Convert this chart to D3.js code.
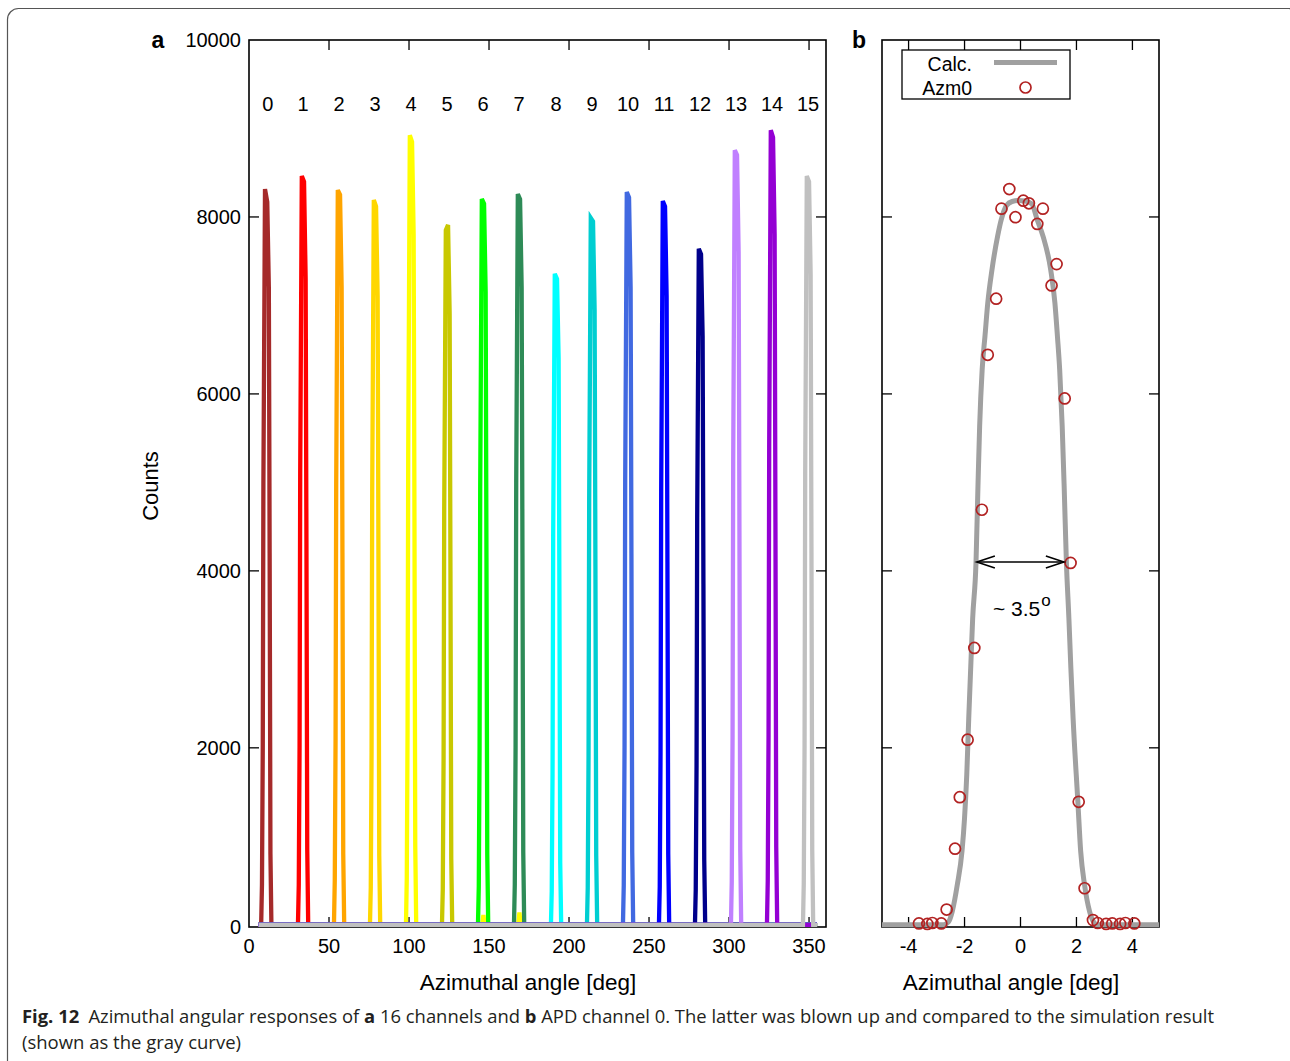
<!DOCTYPE html>
<html>
<head>
<meta charset="utf-8">
<script src="https://cdn.jsdelivr.net/npm/d3@7"></script>
<style>
  body { margin: 0; background: #fff; }
  svg { display: block; }
</style>
</head>
<body>
<svg id="fig" width="1290" height="1061"></svg>
<script>
// ---------- Panel a: 16 channels ----------
const channelIds = d3.range(16).map(String);
const channelColors = ["#a52a2a", "#ff0000", "#ffa500", "#ffd700", "#ffff00", "#c8c800",
  "#00ff00", "#2e8b57", "#00ffff", "#00ced1", "#4169e1", "#0000ff",
  "#00008b", "#c080ff", "#9400d3", "#c0c0c0"];
// centre angle of each channel's response [deg]
const channelCenters = [10.8, 33.8, 56.3, 78.8, 101.3, 123.8, 146.3, 168.8,
  191.9, 214.4, 236.9, 259.4, 281.9, 304.4, 326.9, 349.4];
// scan range covered by every channel [deg]
const scanRange = [6, 355];
// angle offsets from the channel centre at which the counts below are listed
const peakOffsets = [-3.2, -2.7, -2.2, -1.8, -0.8, 0.6, 1.6, 2.1, 2.6, 3.2];
const peakCounts = [
  [0, 450, 2000, 5000, 8315, 8170, 7200, 4200, 800, 0],
  [0, 450, 2000, 5100, 8462, 8400, 7300, 4300, 850, 0],
  [0, 500, 2100, 5000, 8304, 8250, 7200, 4200, 800, 0],
  [0, 420, 1950, 4900, 8192, 8120, 7100, 4100, 780, 0],
  [0, 520, 2200, 5300, 8924, 8850, 7800, 4600, 900, 0],
  [0, 400, 1850, 4700, 7850, 7910, 6900, 4000, 750, 0],
  [0, 430, 2000, 4950, 8203, 8150, 7150, 4150, 800, 0],
  [0, 450, 2000, 5000, 8259, 8200, 7200, 4200, 820, 0],
  [0, 380, 1700, 4400, 7358, 7300, 6400, 3700, 700, 0],
  [0, 420, 1900, 4800, 7989, 7950, 6950, 4050, 780, 0],
  [0, 440, 2000, 5000, 8282, 8220, 7200, 4200, 820, 0],
  [0, 430, 1950, 4900, 8180, 8120, 7100, 4100, 800, 0],
  [0, 400, 1800, 4600, 7640, 7580, 6650, 3850, 740, 0],
  [0, 480, 2100, 5250, 8755, 8700, 7600, 4450, 860, 0],
  [0, 500, 2150, 5400, 8980, 8900, 7800, 4550, 880, 0],
  [0, 460, 2000, 5100, 8462, 8400, 7350, 4300, 840, 0]
];
// small stray counts seen by channel 4 near other channels
const strayChannel = [4, 4];
const strayAngle = [146.5, 169.0];
const strayCount = [110, 140];

const xTicksA = [0, 50, 100, 150, 200, 250, 300, 350];
const yTicks = [0, 2000, 4000, 6000, 8000, 10000];

// ---------- Panel b: channel 0 (Azm0) vs calculation ----------
const azm0Angle = [-3.63, -3.33, -3.15, -2.83, -2.64, -2.34, -2.17, -1.89, -1.65, -1.38,
  -1.17, -0.87, -0.68, -0.4, -0.18, 0.1, 0.3, 0.6, 0.8, 1.11, 1.29, 1.58, 1.79,
  2.08, 2.29, 2.59, 2.76, 3.06, 3.28, 3.56, 3.75, 4.07];
const azm0Count = [15, 10, 20, 15, 172, 860, 1442, 2092, 3129, 4691,
  6442, 7076, 8094, 8315, 7997, 8184, 8154, 7921, 8094, 7226, 7467, 5949, 4090,
  1390, 413, 53, 20, 10, 15, 10, 20, 15];

const calcAngle = [-4.95, -2.75, -2.58, -2.44, -2.26, -2.09, -2.0, -1.92, -1.85, -1.78,
  -1.71, -1.59, -1.52, -1.46, -1.37, -1.27, -1.17, -1.02, -0.82, -0.69, -0.5, -0.3,
  -0.08, 0.15, 0.4, 0.6, 0.81, 1.08, 1.23, 1.32, 1.40, 1.49, 1.56, 1.64, 1.73, 1.8,
  1.88, 2.05, 2.15, 2.29, 2.47, 2.62, 2.75, 4.95];
const calcCount = [0, 0, 30, 150, 450, 834, 1206, 1700, 2332, 2900,
  3459, 4098, 4961, 5637, 6276, 6651, 7027, 7403, 7778, 7966, 8130, 8175,
  8185, 8180, 8150, 7966, 7778, 7403, 7027, 6651, 6276, 5637, 4961, 4098, 3459, 2900,
  2332, 1390, 834, 450, 150, 30, 0, 0];

const xTicksB = [-4, -2, 0, 2, 4];
const widthLabel = "~ 3.5";
const widthAngles = [-1.56, 1.55];
const widthLevel = 4100;

// ---------- layout ----------
const FONT = "'Liberation Sans', Arial, Helvetica, sans-serif";
const svg = d3.select("#fig");
const root = svg.append("g").attr("font-family", FONT).attr("fill", "#000");

// figure frame
svg.append("rect")
  .attr("x", 7.5).attr("y", 8.5).attr("width", 1292).attr("height", 1100)
  .attr("rx", 11).attr("fill", "none").attr("stroke", "#555").attr("stroke-width", 1.2);

const boxA = { left: 249, right: 826, top: 40, bottom: 927 };
const boxB = { left: 882, right: 1159, top: 40, bottom: 927 };

const xA = d3.scaleLinear().domain([0, 360.6]).range([boxA.left, boxA.right]);
const yA = d3.scaleLinear().domain([-25, 10000]).range([boxA.bottom, boxA.top]);
const xB = d3.scaleLinear().domain([-4.95, 4.95]).range([boxB.left, boxB.right]);
const yB = yA.copy();

function frameTicks(g, box, xScale, xTicks, yScale) {
  const tl = 10;
  const t = g.append("g").attr("stroke", "#000").attr("stroke-width", 1.3);
  xTicks.forEach(v => {
    const x = xScale(v);
    if (x <= box.left + 1 || x >= box.right - 1) return;
    t.append("line").attr("x1", x).attr("x2", x).attr("y1", box.bottom).attr("y2", box.bottom - tl);
    t.append("line").attr("x1", x).attr("x2", x).attr("y1", box.top).attr("y2", box.top + tl);
  });
  yTicks.forEach(v => {
    const y = yScale(v);
    if (y >= box.bottom - 4 || y <= box.top + 1) return;
    t.append("line").attr("x1", box.left).attr("x2", box.left + tl).attr("y1", y).attr("y2", y);
    t.append("line").attr("x1", box.right).attr("x2", box.right - tl).attr("y1", y).attr("y2", y);
  });
}

function border(g, box) {
  g.append("rect").attr("x", box.left).attr("y", box.top)
    .attr("width", box.right - box.left).attr("height", box.bottom - box.top)
    .attr("fill", "none").attr("stroke", "#000").attr("stroke-width", 1.6);
}

// ---------- panel a ----------
const gA = root.append("g");
gA.append("clipPath").attr("id", "clipA").append("rect")
  .attr("x", boxA.left).attr("y", boxA.top - 2)
  .attr("width", boxA.right - boxA.left).attr("height", boxA.bottom - boxA.top + 6);

frameTicks(gA, boxA, xA, xTicksA, yA);
border(gA, boxA);

const lineA = d3.line().x(d => xA(d[0])).y(d => yA(d[1]));
const plotA = gA.append("g").attr("clip-path", "url(#clipA)");

channelIds.forEach((id, i) => {
  const c = channelCenters[i];
  const pts = peakOffsets.map((o, k) => [c + o, peakCounts[i][k]]);
  strayChannel.forEach((ch, k) => {
    if (ch === i) {
      pts.push([strayAngle[k] - 0.8, 0], [strayAngle[k], strayCount[k]], [strayAngle[k] + 0.8, 0]);
    }
  });
  pts.push([scanRange[0], 0], [scanRange[1], 0]);
  pts.sort((p, q) => p[0] - q[0]);
  plotA.append("path")
    .attr("d", lineA(pts))
    .attr("fill", "none")
    .attr("stroke", channelColors[i])
    .attr("stroke-width", 4.3);
});

// channel numbers
gA.append("g").selectAll("text").data(channelIds).join("text")
  .attr("x", (d, i) => xA(channelCenters[i]) + (i === 0 ? 1.5 : 0))
  .attr("y", 111)
  .attr("text-anchor", "middle")
  .attr("font-size", 20)
  .text(d => d);

// tick labels
gA.append("g").selectAll("text").data(yTicks).join("text")
  .attr("x", 241).attr("y", d => (d === 0 ? boxA.bottom : yA(d)) + 7)
  .attr("text-anchor", "end").attr("font-size", 20)
  .text(d => d);
gA.append("g").selectAll("text").data(xTicksA).join("text")
  .attr("x", d => xA(d)).attr("y", 953)
  .attr("text-anchor", "middle").attr("font-size", 20)
  .text(d => d);

gA.append("text").attr("x", 528).attr("y", 990).attr("text-anchor", "middle")
  .attr("font-size", 22.5).text("Azimuthal angle [deg]");
gA.append("text").attr("transform", "translate(158,486) rotate(-90)")
  .attr("text-anchor", "middle").attr("font-size", 22).text("Counts");
gA.append("text").attr("x", 158).attr("y", 48).attr("text-anchor", "middle")
  .attr("font-size", 23).attr("font-weight", "bold").text("a");

// ---------- panel b ----------
const gB = root.append("g");
frameTicks(gB, boxB, xB, xTicksB, yB);
border(gB, boxB);

const lineB = d3.line().x(d => xB(d[0])).y(d => yB(d[1])).curve(d3.curveMonotoneX);
gB.append("path")
  .attr("d", lineB(calcAngle.map((a, k) => [a, calcCount[k]])))
  .attr("fill", "none").attr("stroke", "#a0a0a0").attr("stroke-width", 5);

gB.append("g").selectAll("circle").data(azm0Angle).join("circle")
  .attr("cx", d => xB(d))
  .attr("cy", (d, k) => yB(azm0Count[k]))
  .attr("r", 5.5)
  .attr("fill", "none").attr("stroke", "#b22222").attr("stroke-width", 1.7);

// width annotation
const ay = yB(widthLevel);
const ax1 = xB(widthAngles[0]), ax2 = xB(widthAngles[1]);
const arrow = gB.append("g").attr("stroke", "#000").attr("stroke-width", 1.6).attr("fill", "none");
arrow.append("line").attr("x1", ax1).attr("x2", ax2).attr("y1", ay).attr("y2", ay);
arrow.append("path").attr("d", `M${ax1 + 18},${ay - 6}L${ax1},${ay}L${ax1 + 18},${ay + 6}`);
arrow.append("path").attr("d", `M${ax2 - 18},${ay - 6}L${ax2},${ay}L${ax2 - 18},${ay + 6}`);
const ann = gB.append("text").attr("x", 993).attr("y", 616).attr("font-size", 21);
ann.append("tspan").text(widthLabel);
ann.append("tspan").attr("font-size", 17).attr("dy", -10).attr("dx", 1).text("o");

gB.append("g").selectAll("text").data(xTicksB).join("text")
  .attr("x", d => xB(d)).attr("y", 953)
  .attr("text-anchor", "middle").attr("font-size", 20)
  .text(d => d);
gB.append("text").attr("x", 1011).attr("y", 990).attr("text-anchor", "middle")
  .attr("font-size", 22.5).text("Azimuthal angle [deg]");
gB.append("text").attr("x", 859).attr("y", 48).attr("text-anchor", "middle")
  .attr("font-size", 23).attr("font-weight", "bold").text("b");

// legend
const lg = gB.append("g");
lg.append("rect").attr("x", 902).attr("y", 50).attr("width", 168).attr("height", 49)
  .attr("fill", "#fff").attr("stroke", "#000").attr("stroke-width", 1.3);
lg.append("text").attr("x", 972).attr("y", 71).attr("text-anchor", "end")
  .attr("font-size", 19.5).text("Calc.");
lg.append("line").attr("x1", 994).attr("x2", 1057).attr("y1", 62.5).attr("y2", 62.5)
  .attr("stroke", "#a0a0a0").attr("stroke-width", 5);
lg.append("text").attr("x", 972).attr("y", 95).attr("text-anchor", "end")
  .attr("font-size", 19.5).text("Azm0");
lg.append("circle").attr("cx", 1025.5).attr("cy", 87.5).attr("r", 5.5)
  .attr("fill", "none").attr("stroke", "#b22222").attr("stroke-width", 1.7);

// ---------- caption ----------
const cap = svg.append("g").attr("font-family", "'Open Sans', 'Noto Sans', sans-serif")
  .attr("font-size", 18.5).attr("fill", "#231f20");
const l1 = cap.append("text").attr("x", 22).attr("y", 1023)
  .attr("textLength", 1192).attr("lengthAdjust", "spacingAndGlyphs");
l1.append("tspan").attr("font-weight", "bold").text("Fig. 12");
l1.append("tspan").text("\u2002Azimuthal angular responses of ");
l1.append("tspan").attr("font-weight", "bold").text("a");
l1.append("tspan").text(" 16 channels and ");
l1.append("tspan").attr("font-weight", "bold").text("b");
l1.append("tspan").text(" APD channel 0. The latter was blown up and compared to the simulation result");
cap.append("text").attr("x", 22).attr("y", 1049)
  .attr("textLength", 219).attr("lengthAdjust", "spacingAndGlyphs")
  .text("(shown as the gray curve)");
</script>
</body>
</html>
